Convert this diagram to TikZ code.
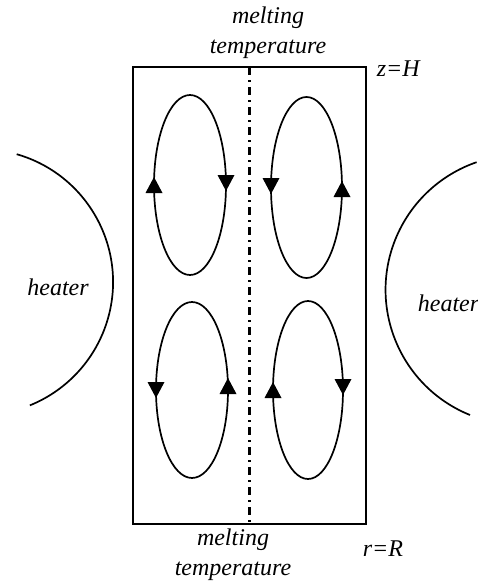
\documentclass[tikz,border=0pt]{standalone}
\usepackage{fontspec}
\setmainfont{Liberation Serif}
\newcommand{\tipup}[2]{\fill (#1-8.5,#2+8) -- (#1+8.5,#2+8) -- (#1,#2-8) -- cycle;}
\newcommand{\tipdown}[2]{\fill (#1-8.5,#2-8) -- (#1+8.5,#2-8) -- (#1,#2+8) -- cycle;}
\begin{document}
\begin{tikzpicture}[x=1pt,y=-1pt,line width=1.7pt,font=\fontsize{24}{30}\selectfont\itshape]
	\useasboundingbox (0,0) rectangle (477,581);
	\coordinate (TL) at (190,185);
	\coordinate (TR) at (306.5,187.5);
	\coordinate (BL) at (192,390);
	\coordinate (BR) at (308,390);
	\draw (133,67) rectangle (366,524);
	\draw[line width=3pt,dash pattern=on 8pt off 5pt on 2pt off 5pt] (249,67) -- (249,524);
	\draw (TL) ellipse [x radius=36, y radius=90];
	\draw (TR) ellipse [x radius=35.5, y radius=90.5];
	\draw (BL) ellipse [x radius=36, y radius=88];
	\draw (BR) ellipse [x radius=35, y radius=89];
	\tipup{154}{185} \tipdown{226}{183}
	\tipdown{271}{186} \tipup{342}{189}
	\tipdown{156}{390} \tipup{228}{386}
	\tipup{273}{390} \tipdown{343}{387}
	\draw (16.7,154.2) arc[start angle=-74, end angle=68, radius=133];
	\draw (470,415) arc[start angle=112, end angle=251, radius=135];
	\node (heatL) at (58,287) {heater};
	\node[anchor=west,inner sep=0pt] (heatR) at (417,303) {heater};
	\node[align=center] (meltT) at (268,33) {melting\\temperature};
	\node[align=center] (meltB) at (233,555) {melting\\temperature};
	\node[anchor=west,inner sep=0pt] (zH) at (376,69) {z=H};
	\node[anchor=west,inner sep=0pt] (rR) at (362,549) {r=R};
\end{tikzpicture}
\end{document}
